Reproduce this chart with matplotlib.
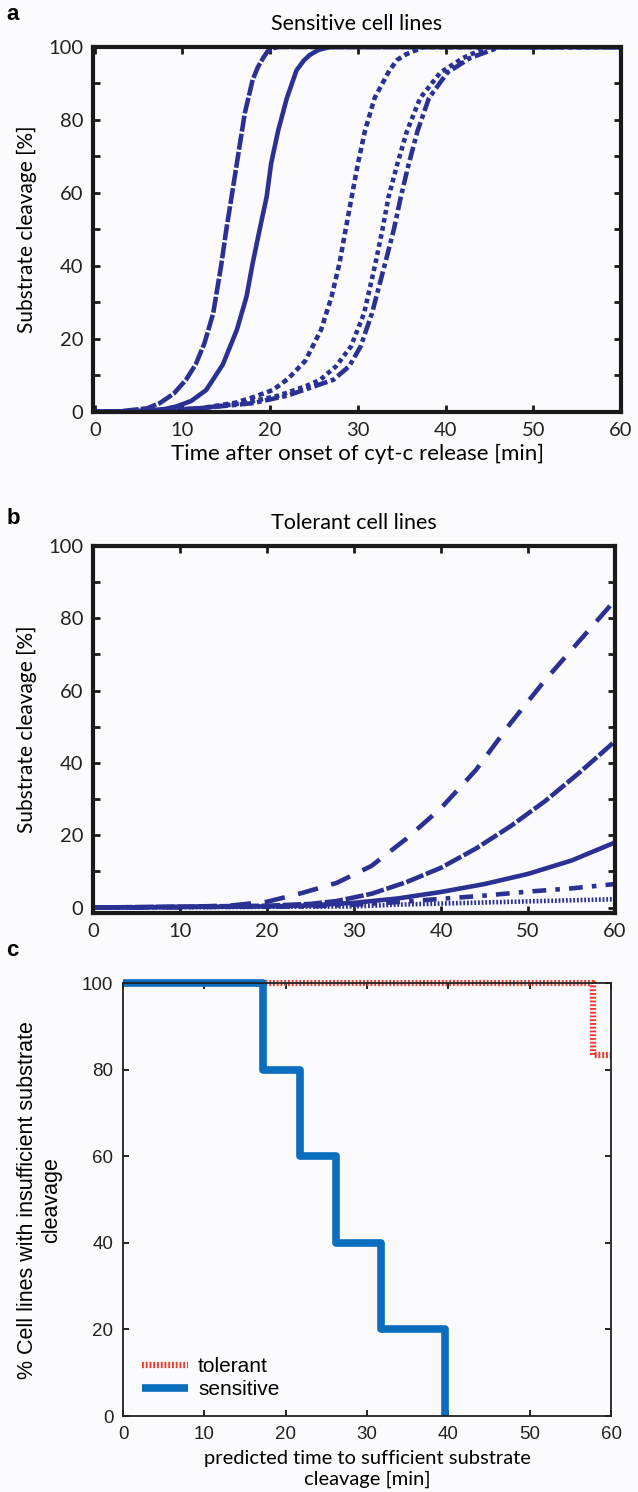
import matplotlib
matplotlib.use("Agg")
import matplotlib.pyplot as plt
from matplotlib.ticker import MultipleLocator

# ---- panel a: sensitive cell lines (time [min], substrate cleavage [%]) ----
a1_t = [-1, 3, 6, 7.4, 9, 10.4, 11.5, 12.5, 13.5, 14.4, 15, 15.6, 16.5, 17.1, 18, 18.6, 19.2, 19.7, 20.1, 21, 60]
a1_y = [0, 0.2, 1, 2.4, 5, 8.8, 13, 18.8, 27, 40, 50, 59, 72.7, 81.8, 91, 94.5, 97, 98.8, 99.6, 100, 100]
a2_t = [-1, 5, 8, 9.3, 11, 12.7, 14.6, 16.2, 17.3, 18, 18.8, 19.6, 20.1, 20.9, 21.9, 23, 23.8, 24.5, 25.5, 26.8, 60]
a2_y = [0, 0.2, 0.8, 1.5, 3, 6, 13, 22.5, 31.6, 40.7, 50, 59, 68, 77, 86, 93.6, 96.2, 97.8, 99.2, 100, 100]
a3_t = [-1, 8, 12, 16, 18, 20.3, 22, 24, 25.8, 27, 27.9, 28.6, 29.3, 30, 30.8, 31.9, 33.6, 34.5, 35.5, 37.5, 60]
a3_y = [0, 0.3, 1, 2.5, 4, 6, 9, 14, 22.5, 31.6, 40.7, 50, 59, 68, 77, 86, 93.6, 96.5, 98, 100, 100]
a4_t = [-1, 6, 12, 17, 21, 24, 25.7, 27.5, 29.2, 30.7, 32, 32.8, 33.5, 34.5, 35.6, 37.1, 39.4, 42, 44.7, 60]
a4_y = [0, 0.3, 1, 2.4, 4.5, 7, 8.8, 12.5, 17.9, 27, 40.7, 50, 59, 68, 77, 86, 93, 97, 100, 100]
a5_t = [-1, 6, 12, 18, 22, 25, 27.2, 29, 30.3, 31.6, 33.1, 34.1, 34.9, 35.8, 36.8, 38.1, 40.2, 42.8, 46.2, 60]
a5_y = [0, 0.3, 1, 2.4, 4.5, 7, 8.8, 12.5, 17.9, 27, 40.7, 50, 59, 68, 77, 86, 93, 97, 100, 100]

# ---- panel b: tolerant cell lines ----
b1_t = [0, 10, 16, 20, 24, 28, 32, 36, 40, 44, 48, 52, 56, 60]
b1_y = [0, 0.1, 0.6, 1.6, 4, 6.8, 11.5, 19, 27.5, 38, 51, 63, 74, 85]
b2_t = [0, 20, 25, 28, 32, 36, 40, 44, 48, 52, 56, 60]
b2_y = [0, 0.5, 1, 1.8, 3.8, 7, 11, 16.3, 22.5, 29.5, 37.5, 46]
b3_t = [0, 20, 25, 30, 35, 40, 45, 50, 55, 60]
b3_y = [0, 0.3, 0.6, 1.3, 2.5, 4.3, 6.5, 9.3, 13, 18]
b4_t = [0, 25, 30, 35, 40, 45, 50, 55, 60]
b4_y = [0, 0.3, 0.8, 1.5, 2.4, 3.3, 4.4, 5.3, 6.5]
b5_t = [0, 30, 35, 40, 45, 50, 55, 60]
b5_y = [0, 0.3, 0.8, 1.1, 1.4, 1.7, 2.0, 2.3]

# ---- panel c: Kaplan-Meier style steps ----
sens_t = [0, 17.2, 21.7, 26.2, 31.7, 39.6]
sens_y = [100, 80, 60, 40, 20, 0]
tol_t = [0, 57.8, 60]
tol_y = [100, 83.3, 83.3]

NAVY = "#2b3193"
BG = "#fbfbfd"
FONT_A = ["Lato", "DejaVu Sans"]
FONT_C = ["Liberation Sans", "DejaVu Sans"]

fig = plt.figure(figsize=(6.38, 14.92), dpi=100, facecolor=BG)


def thick_box(ax):
    ax.set_facecolor(BG)
    for s in ax.spines.values():
        s.set_linewidth(3)
        s.set_color("#1a1a1a")
    ax.tick_params(which="both", direction="in", top=True, right=True,
                   width=2, color="#1a1a1a", labelsize=14.5, pad=7)
    ax.tick_params(which="both", length=5)
    for lab in ax.get_xticklabels() + ax.get_yticklabels():
        lab.set_family(FONT_A)
        lab.set_color("#222222")


# panel a
ax1 = fig.add_axes([0.1458, 0.7239, 0.8276, 0.2446])
lw = 3.3
ax1.plot(a5_t, a5_y, color=NAVY, lw=lw, ls=(0, (3, 0.8, 1, 0.8)))
ax1.plot(a4_t, a4_y, color=NAVY, lw=lw, ls=(0, (1, 0.8)))
ax1.plot(a3_t, a3_y, color=NAVY, lw=lw, ls=(0, (1.2, 0.8)))
ax1.plot(a2_t, a2_y, color=NAVY, lw=lw, ls="-")
ax1.plot(a1_t, a1_y, color=NAVY, lw=lw, ls=(0, (3.5, 0.5)))
ax1.set_xlim(-0.2, 60)
ax1.set_ylim(0, 100)
ax1.xaxis.set_major_locator(MultipleLocator(10))
ax1.yaxis.set_major_locator(MultipleLocator(20))
ax1.yaxis.set_minor_locator(MultipleLocator(10))
thick_box(ax1)
ax1.set_title("Sensitive cell lines", family=FONT_A, fontsize=15.5, pad=12)
ax1.set_xlabel("Time after onset of cyt-c release [min]", family=FONT_A, fontsize=16, labelpad=4)
ax1.set_ylabel("Substrate cleavage [%]", family=FONT_A, fontsize=15, labelpad=8)

# panel b
ax2 = fig.add_axes([0.1458, 0.3881, 0.8182, 0.2460])
ax2.plot(b5_t, b5_y, color=NAVY, lw=lw, ls=(0, (0.4, 0.4)))
ax2.plot(b4_t, b4_y, color=NAVY, lw=lw, ls=(0, (3, 2, 1, 2)))
ax2.plot(b3_t, b3_y, color=NAVY, lw=lw, ls="-")
ax2.plot(b2_t, b2_y, color=NAVY, lw=lw, ls=(0, (4, 0.6)))
ax2.plot(b1_t, b1_y, color=NAVY, lw=lw, ls=(0, (4.5, 3)))
ax2.set_xlim(0, 60)
ax2.set_ylim(-1.5, 100)
ax2.xaxis.set_major_locator(MultipleLocator(10))
ax2.yaxis.set_major_locator(MultipleLocator(20))
ax2.yaxis.set_minor_locator(MultipleLocator(10))
thick_box(ax2)
ax2.set_title("Tolerant cell lines", family=FONT_A, fontsize=15.5, pad=12)
ax2.set_ylabel("Substrate cleavage [%]", family=FONT_A, fontsize=15, labelpad=8)

# panel c
ax3 = fig.add_axes([0.1928, 0.0509, 0.7649, 0.2902])
ax3.set_facecolor(BG)
ax3.plot(tol_t, tol_y, drawstyle="steps-post", color="#f03a2e", lw=4.5,
         ls=(0, (0.3, 0.3)), label="tolerant", clip_on=False)
ax3.plot(sens_t, sens_y, drawstyle="steps-post", color="#0b6dbd", lw=5.5,
         label="sensitive", clip_on=False, solid_capstyle="butt")
ax3.set_xlim(0, 60)
ax3.set_ylim(0, 100)
ax3.xaxis.set_major_locator(MultipleLocator(10))
ax3.yaxis.set_major_locator(MultipleLocator(20))
for s in ax3.spines.values():
    s.set_linewidth(1.3)
    s.set_color("#222222")
ax3.tick_params(direction="in", top=True, right=True, length=4, width=1.2,
                labelsize=13.5, pad=7)
for lab in ax3.get_xticklabels() + ax3.get_yticklabels():
    lab.set_family(FONT_C)
    lab.set_color("#222222")
ax3.set_xlabel("predicted time to sufficient substrate\ncleavage [min]",
               family=FONT_A, fontsize=14.5, labelpad=5, linespacing=1.3)
ax3.set_ylabel("% Cell lines with insufficient substrate\ncleavage",
               family=FONT_C, fontsize=15.5, labelpad=14, linespacing=1.2)
leg = ax3.legend(loc="lower left", bbox_to_anchor=(0.0, -0.005), frameon=False,
                 handlelength=2.2, handletextpad=0.5, labelspacing=0.2,
                 prop={"family": FONT_C, "size": 15})

# panel letters
for letter, ypx in [("a", 14), ("b", 518), ("c", 950)]:
    fig.text(0.01, 1 - ypx / 1492, letter, family=FONT_C, fontsize=16,
             fontweight="bold", va="center", ha="left")

fig.savefig("out.png", dpi=100, facecolor=BG)
